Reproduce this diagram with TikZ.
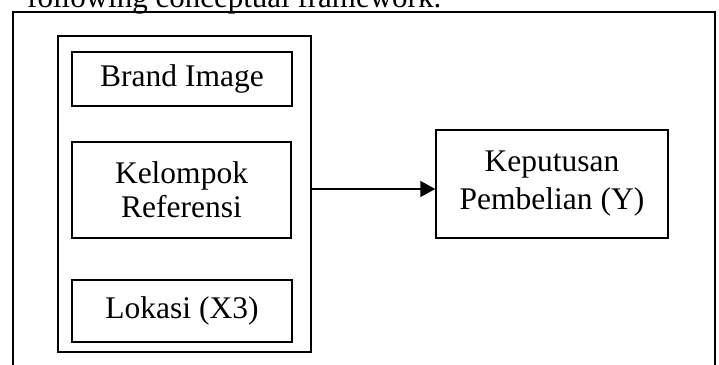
\documentclass[tikz,border=0pt]{standalone}
\usepackage{fontspec}
\setmainfont{Liberation Serif}
\usetikzlibrary{arrows.meta}

\tikzset{
  frame/.style={draw, line width=2pt},
  group/.style={draw, line width=1.6pt},
  varbox/.style={draw, line width=1.5pt, inner sep=0pt, align=center,
    font=\fontsize{31.5}{34}\selectfont},
  link/.style={line width=2pt, -{Triangle[length=15pt,width=16pt]}}
}

\begin{document}
\begin{tikzpicture}[x=1pt, y=-1pt]
  \useasboundingbox (0,0) rectangle (719,364);
  \clip (0,0) rectangle (719,364);

  % lead-in sentence above the figure
  \node[anchor=base west, inner sep=0pt, font=\fontsize{31}{34}\selectfont]
    (lead) at (27,7) {following conceptual framework.};

  % outer frame (runs past the lower edge)
  \draw[frame] (13,12) rectangle (715,380);

  % grouping box for the independent variables
  \node[group, minimum width=253pt, minimum height=316pt, inner sep=0pt]
    (inner) at (184.5,194) {};

  % independent variables
  \node[varbox, minimum width=220pt, minimum height=54pt]
    (brand) at (182,79) {Brand Image};
  \node[varbox, minimum width=219pt, minimum height=96pt]
    (kelompok) at (181.5,190) {Kelompok\\Referensi};
  \node[varbox, minimum width=220pt, minimum height=62pt]
    (lokasi) at (182,311) {Lokasi (X3)};

  % dependent variable
  \node[varbox, minimum width=232pt, minimum height=108pt,
        font=\fontsize{31.5}{38}\selectfont]
    (keputusan) at (552,184) {Keputusan\\Pembelian (Y)};

  % influence arrow
  \coordinate (from) at (inner.east |- 0,189);
  \coordinate (to) at (keputusan.west |- 0,189);
  \draw[link] (from) -- (to);
\end{tikzpicture}
\end{document}
